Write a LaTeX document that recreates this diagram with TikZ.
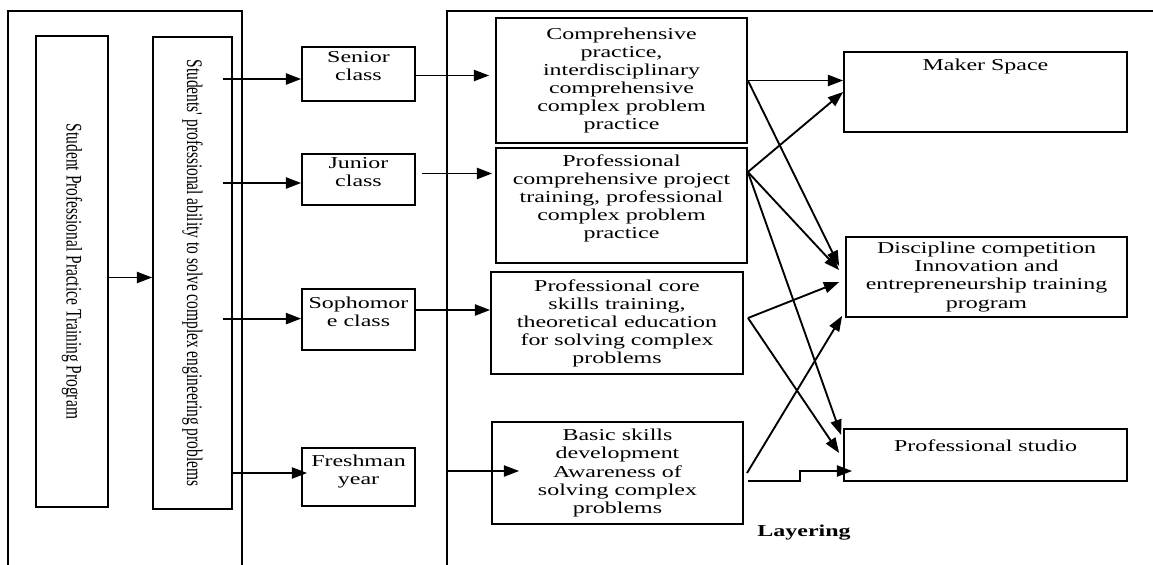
\documentclass[tikz,border=0pt]{standalone}
\usepackage{fontspec}
\setmainfont{Liberation Serif}
\newfontfamily\widefont[FakeStretch=1.44]{Liberation Serif}
\newfontfamily\tallfont[FakeStretch=0.695]{Liberation Serif}
\usetikzlibrary{arrows.meta,calc}

\begin{document}
\begin{tikzpicture}[x=0.03cm, y=-0.03cm,
    box/.style={draw, line width=1.5pt, inner sep=0pt, align=center,
      font=\widefont\fontsize{14.2}{15.4}\selectfont},
    sidebox/.style={box, rotate=-90, font=\tallfont\fontsize{19}{20}\selectfont},
    classbox/.style={box, text depth=13pt},
    boxsize/.style 2 args={minimum width=#1*0.03cm, minimum height=#2*0.03cm},
    arr/.style={-{Triangle[length=13pt,width=9.5pt]}, line width=1.6pt},
    frame/.style={line width=1.6pt}]

    \useasboundingbox (0,0) rectangle (1153,565);

    % Draw the two frames
    \draw[frame] (8,565) |- (242,11) -- (242,565);
    \draw[frame] (447,565) |- (1153,11);
    \coordinate (rf) at (447,11);

    % Program and ability columns
    \node[sidebox, boxsize={471}{72}] (prog) at (72,271.5) {Student Professional Practice Training Program};
    \node[sidebox, boxsize={471.5}{79}] (ability) at (192.5,273) {Students' professional ability to solve complex engineering problems};
    \draw[arr] (prog.north |- 0,277.5) -- (ability.south |- 0,277.5);

    % Classes
    \foreach \n/\t/\y/\h in {senior/{Senior\\class}/74/54, junior/{Junior\\class}/179.5/51,
        sopho/{Sophomor\\e class}/319.5/61, fresh/{Freshman\\year}/477/58} {
      \node[classbox, boxsize={113}{\h}] (\n) at (358.5,\y) {\t};
    }
    \foreach \n/\y in {senior/79, junior/183, sopho/318.6} {
      \draw[arr, shorten <=-0.3cm] (ability.north |- 0,\y) -- (\n.west |- 0,\y);
    }
    \draw[arr, shorten >=-0.18cm] (ability.north |- 0,473) -- (fresh.west |- 0,473);

    % Practice contents
    \node[box, boxsize={251}{125}] (comp) at (621.5,80.5) {Comprehensive\\ practice,\\ interdisciplinary\\ comprehensive\\ complex problem\\ practice};
    \node[box, boxsize={251}{115}] (proj) at (621.5,205.5) {Professional\\ comprehensive project\\ training, professional\\ complex problem\\ practice\\ ~};
    \node[box, boxsize={252}{102}] (core) at (617,323) {Professional core\\ skills training,\\ theoretical education\\ for solving complex\\ problems};
    \node[box, boxsize={251}{102}] (basic) at (617.5,473) {Basic skills\\ development\\ Awareness of\\ solving complex\\ problems};

    \draw[arr, shorten >=0.18cm] (senior.east |- 0,75.5) -- (comp.west |- 0,75.5);
    \draw[arr, shorten <=0.18cm, shorten >=0.09cm] (junior.east |- 0,173.5) -- (proj.west |- 0,173.5);
    \draw[arr] (sopho.east |- 0,310) -- (core.west |- 0,310);
    \draw[arr, shorten >=-0.84cm] (rf |- 0,471) -- (basic.west |- 0,471);

    % Platforms
    \node[box, boxsize={283}{80}] (maker) at (985.5,92) {Maker Space\\ ~\\ ~\\ ~};
    \node[box, boxsize={281}{80}] (compet) at (986.5,277) {Discipline competition\\ Innovation and\\ entrepreneurship training\\ program};
    \node[box, boxsize={283}{52}] (studio) at (985.5,455) {Professional studio\\ ~};
    \node[font=\widefont\bfseries\fontsize{14.2}{15.4}\selectfont] (layer) at (804,533) {Layering};

    \coordinate (pj) at (proj.east |- 0,172);
    \coordinate (cr) at (748,318);
    \coordinate (bs) at (747,473);

    \draw[arr] (comp.east) -- (maker.west |- comp.east);
    \draw[arr] (comp.east) -- ($(compet.west)+(-6,-11)$);
    \draw[arr] (pj) -- (maker.west);
    \draw[arr] (pj) -- ($(compet.west)+(-6,-7)$);
    \draw[arr] (pj) -- ($(studio.west)+(-2,-20)$);
    \draw[arr] (cr) -- ($(compet.west)+(-6,5)$);
    \draw[arr] (cr) -- ($(studio.west)+(-4,-2)$);
    \draw[arr] (bs) -- ($(compet.south west)+(-3,-2)$);
    \draw[arr] ($(basic.east)+(4,8)$) -- ++(52,0) -- ++(0,-10) -- ($(studio.west)+(9,16)$);

\end{tikzpicture}
\end{document}
